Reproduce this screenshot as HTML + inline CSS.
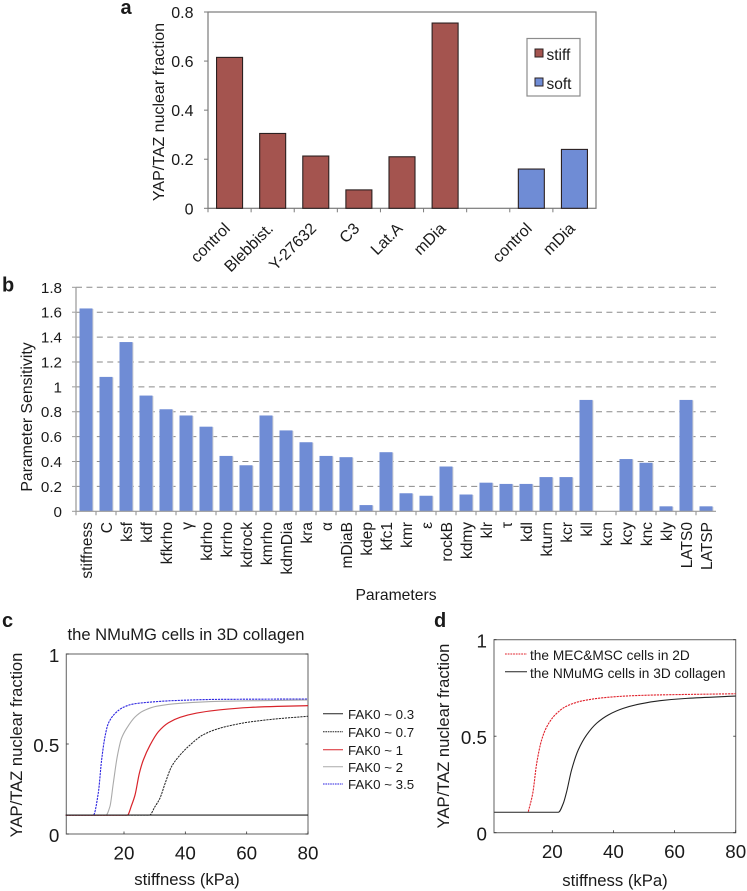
<!DOCTYPE html>
<html>
<head>
<meta charset="utf-8">
<title>YAP/TAZ nuclear fraction figure</title>
<style>
html,body{margin:0;padding:0;background:#fff;}
svg{display:block;font-family:"Liberation Sans",sans-serif;fill:#1a1a1a;filter:blur(0.3px);}
text{fill:#1a1a1a;}
</style>
</head>
<body>
<svg id="fig" xmlns="http://www.w3.org/2000/svg" width="747" height="891" viewBox="0 0 747 891">
  <text x="120.5" y="14" font-size="20" font-weight="bold">a</text>
  <text x="2" y="291.5" font-size="20" font-weight="bold">b</text>
  <text x="2" y="627" font-size="20" font-weight="bold">c</text>
  <text x="434" y="627" font-size="20" font-weight="bold">d</text>

  <text transform="translate(164,112) rotate(-90)" text-anchor="middle" font-size="16">YAP/TAZ nuclear fraction</text>
  <text transform="translate(32,417) rotate(-90)" text-anchor="middle" font-size="15.8">Parameter Sensitivity</text>
  <text x="396" y="600" text-anchor="middle" font-size="15.7">Parameters</text>
  <text x="186" y="640" text-anchor="middle" font-size="16.6">the NMuMG cells in 3D collagen</text>
  <text transform="translate(22,745) rotate(-90)" text-anchor="middle" font-size="16.6">YAP/TAZ nuclear fraction</text>
  <text x="187" y="885" text-anchor="middle" font-size="16.7">stiffness (kPa)</text>
  <text transform="translate(449,736) rotate(-90)" text-anchor="middle" font-size="16.6">YAP/TAZ nuclear fraction</text>
  <text x="615" y="886" text-anchor="middle" font-size="16.7">stiffness (kPa)</text>

  <g id="a-root"></g>
  <g id="b-root"></g>
  <g id="c-root"></g>
  <g id="d-root"></g>

  <g>
    <rect x="527" y="38.5" width="53" height="57.5" fill="#fff" stroke="#8c8c8c" stroke-width="1.2"/>
    <rect x="535" y="49" width="8" height="8" fill="#a4544f" stroke="#2b2020" stroke-width="1"/>
    <text x="546.5" y="60" font-size="15.5">stiff</text>
    <rect x="535" y="78" width="8" height="8" fill="#6f8cd5" stroke="#2b2020" stroke-width="1"/>
    <text x="546.5" y="89" font-size="15.5">soft</text>
  </g>

  <g font-size="13.3">
    <line x1="323" x2="343" y1="713.7" y2="713.7" stroke="#222" stroke-width="1"/>
    <text x="348" y="719">FAK0 ~ 0.3</text>
    <line x1="323" x2="343" y1="731.7" y2="731.7" stroke="#222" stroke-width="1" stroke-dasharray="1.6 0.8"/>
    <text x="348" y="737">FAK0 ~ 0.7</text>
    <line x1="323" x2="343" y1="749.7" y2="749.7" stroke="#d8232a" stroke-width="1"/>
    <text x="348" y="755">FAK0 ~ 1</text>
    <line x1="323" x2="343" y1="766.7" y2="766.7" stroke="#aaa" stroke-width="1"/>
    <text x="348" y="772">FAK0 ~ 2</text>
    <line x1="323" x2="343" y1="784" y2="784" stroke="#2a22e0" stroke-width="1" stroke-dasharray="1.6 0.8"/>
    <text x="348" y="789">FAK0 ~ 3.5</text>
  </g>

  <g font-size="13.7">
    <line x1="505" x2="527" y1="654" y2="654" stroke="#e0202a" stroke-width="1" stroke-dasharray="1.8 0.9"/>
    <text x="530" y="660">the MEC&amp;MSC cells in 2D</text>
    <line x1="505" x2="527" y1="671.7" y2="671.7" stroke="#222" stroke-width="1"/>
    <text x="530" y="678">the NMuMG cells in 3D collagen</text>
  </g>
</svg>

<script>
// Panel a data
const aCategories = ["control", "Blebbist.", "Y-27632", "C3", "Lat.A", "mDia", "", "control", "mDia"];
const aStiff = [0.615, 0.305, 0.213, 0.075, 0.21, 0.755, null, null, null];
const aSoft = [null, null, null, null, null, null, null, 0.16, 0.24];
const aTicks = [0, 0.2, 0.4, 0.6, 0.8];

// Panel b data
const bCategories = ["stiffness", "C", "ksf", "kdf", "kfkrho", "γ", "kdrho", "krrho", "kdrock", "kmrho", "kdmDia", "kra", "α", "mDiaB", "kdep", "kfc1", "kmr", "ε", "rockB", "kdmy", "klr", "τ", "kdl", "kturn", "kcr", "kll", "kcn", "kcy", "knc", "kly", "LATS0", "LATSP"];
const bValues = [1.63, 1.08, 1.36, 0.93, 0.82, 0.77, 0.68, 0.445, 0.37, 0.77, 0.65, 0.555, 0.445, 0.435, 0.05, 0.475, 0.145, 0.125, 0.36, 0.135, 0.23, 0.22, 0.22, 0.275, 0.275, 0.895, 0, 0.42, 0.39, 0.04, 0.895, 0.04];
const bTicks = [0, 0.2, 0.4, 0.6, 0.8, 1, 1.2, 1.4, 1.6, 1.8];

// Panel c data
const curveXTicks = [20, 40, 60, 80];
const curveYTicks = [0, 0.5, 1];
const cFak03X = [1, 80];
const cFak03Y = [0.105, 0.105];
const cFak07X = [1, 28.3, 30.1, 31.7, 33.4, 35.5, 38.3, 41.5, 45.9, 51.3, 55.7, 60, 70, 80];
const cFak07Y = [0.105, 0.105, 0.152, 0.198, 0.281, 0.374, 0.439, 0.494, 0.552, 0.588, 0.606, 0.62, 0.64, 0.654];
const cFak1X = [1, 21.1, 22.5, 23.6, 25, 26.3, 28.5, 31.2, 34.5, 38.3, 43.7, 51.3, 61, 70, 80];
const cFak1Y = [0.105, 0.105, 0.161, 0.217, 0.337, 0.411, 0.494, 0.568, 0.618, 0.648, 0.672, 0.69, 0.703, 0.709, 0.713];
const cFak2X = [1, 14.1, 15.4, 16.5, 17.8, 19.2, 20.9, 23.6, 26.3, 30.7, 38.3, 51.3, 80];
const cFak2Y = [0.105, 0.105, 0.152, 0.281, 0.43, 0.532, 0.588, 0.65, 0.684, 0.71, 0.726, 0.737, 0.745];
const cFak35X = [1, 10, 11.6, 12.7, 13.8, 14.9, 17.1, 19.8, 23, 27.4, 36.1, 51.3, 80];
const cFak35Y = [0.105, 0.105, 0.226, 0.411, 0.541, 0.615, 0.67, 0.704, 0.722, 0.731, 0.741, 0.748, 0.75];

// Panel d data
const d2dX = [12.15, 13.6, 14.9, 16.5, 18.2, 20.9, 24.7, 30.1, 37.8, 46.5, 55.2, 80];
const d2dY = [0.109, 0.204, 0.36, 0.48, 0.549, 0.61, 0.656, 0.684, 0.701, 0.71, 0.714, 0.72];
const d3dX = [1, 22, 23.6, 24.7, 26.3, 28.5, 31.2, 34.5, 38.3, 43.2, 48.7, 55.2, 64, 80];
const d3dY = [0.106, 0.106, 0.152, 0.213, 0.325, 0.429, 0.506, 0.567, 0.61, 0.644, 0.667, 0.684, 0.696, 0.708];

const NS = "http://www.w3.org/2000/svg";
function mk(parent, tag, attrs, txt) {
  const e = document.createElementNS(NS, tag);
  for (const k in attrs) e.setAttribute(k, attrs[k]);
  if (txt !== undefined) e.textContent = txt;
  parent.appendChild(e);
  return e;
}
let el;

/* ---------- Panel a ---------- */
const aRoot = document.getElementById("a-root");
const aL = 208, aR = 596, aT = 12, aB = 208.3;
const aX = i => aL + (aR - aL) * (i + 0.5) / aCategories.length;
const aY = v => aB - (aB - aT) * v / 0.8;
el = mk(aRoot, "rect", {x: aL, y: aT, width: aR - aL, height: aB - aT, fill: "none", stroke: "#7a7a7a", "stroke-width": 1.2});


aTicks.forEach(t => {
  el = mk(aRoot, "line", {x1: aL - 4, x2: aL, y1: aY(t), y2: aY(t), stroke: "#7a7a7a", "stroke-width": 1});
  
  
  el = mk(aRoot, "text", {x: aL - 14.5, y: aY(t) + 6, "text-anchor": "end", "font-size": 16}, String(t));
  
  
});
aCategories.forEach((c, i) => {
  const edge = aL + (aR - aL) * i / aCategories.length;
  el = mk(aRoot, "line", {x1: edge, x2: edge, y1: aB, y2: aB + 4, stroke: "#7a7a7a", "stroke-width": 1});
  
  
  if (c) {
    el = mk(aRoot, "text", {transform: "translate(" + (aX(i) + 1.5) + ",229.5) rotate(-45)", "text-anchor": "end", "font-size": 16}, c);
    
    
  }
  if (aStiff[i] !== null) {
    el = mk(aRoot, "rect", {x: aX(i) - 13, y: aY(aStiff[i]), width: 26, height: aB - aY(aStiff[i]), fill: "#a4544f", stroke: "#2b2020", "stroke-width": 1.1});
    
    
  }
  if (aSoft[i] !== null) {
    el = mk(aRoot, "rect", {x: aX(i) - 13, y: aY(aSoft[i]), width: 26, height: aB - aY(aSoft[i]), fill: "#6f8cd5", stroke: "#2b2020", "stroke-width": 1.1});
    
    
  }
});

/* ---------- Panel b ---------- */
const bRoot = document.getElementById("b-root");
const bL = 76, bR = 716, bT = 287.3, bB = 511.3;
const bX = i => bL + (bR - bL) * (i + 0.5) / bCategories.length;
const bY = v => bB - (bB - bT) * v / 1.8;
bTicks.forEach(t => {
  if (t > 0) {
    el = mk(bRoot, "line", {x1: bL, x2: bR, y1: bY(t), y2: bY(t), stroke: "#8a8a8a", "stroke-width": 1, "stroke-dasharray": "6 4.4"});
    
    
  }
  el = mk(bRoot, "line", {x1: bL - 4, x2: bL, y1: bY(t), y2: bY(t), stroke: "#9a9a9a", "stroke-width": 1});
  
  
  el = mk(bRoot, "text", {x: 62, y: bY(t) + 5.5, "text-anchor": "end", "font-size": 15.2}, String(t));
  
  
});
bCategories.forEach((c, i) => {
  const edge = bL + (bR - bL) * i / bCategories.length;
  const h = bB - bY(bValues[i]);
  if (h > 0) {
    el = mk(bRoot, "rect", {x: bX(i) - 5.5, y: bY(bValues[i]) + 0.5, width: 13, height: h - 0.5, fill: "#d4d4d4"});
    
    
  }
  el = mk(bRoot, "rect", {x: bX(i) - 6.5, y: bY(bValues[i]), width: 13, height: h, fill: "#6f8cd5"});
  
  
  el = mk(bRoot, "line", {x1: edge, x2: edge, y1: bB, y2: bB + 4, stroke: "#8a8a8a", "stroke-width": 1});
  
  
  el = mk(bRoot, "text", {transform: "translate(" + (bX(i) + 6) + ",522) rotate(-90)", "text-anchor": "end", "font-size": 15.5}, c);
  
  
});
el = mk(bRoot, "line", {x1: bL, x2: bL, y1: bT, y2: bB, stroke: "#a6a6a6", "stroke-width": 1.4});


el = mk(bRoot, "line", {x1: bL, x2: bR, y1: bB, y2: bB, stroke: "#9a9a9a", "stroke-width": 1.2});



/* ---------- Shared curve-panel drawing ---------- */
function curveFrame(root, box, prefix) {
  const sx = s => box.r - (box.r - box.x20) * (80 - s) / 60;
  const sy = v => box.b - (box.b - box.t) * v;
  el = mk(root, "rect", {x: box.l, y: box.t, width: box.r - box.l, height: box.b - box.t, fill: "none", stroke: "#6e6e6e", "stroke-width": 1.1});
  
  
  curveXTicks.forEach(t => {
    el = mk(root, "line", {x1: sx(t), x2: sx(t), y1: box.b, y2: box.b - 2.5, stroke: "#333", "stroke-width": 0.8});
    
    
    el = mk(root, "text", {x: sx(t), y: box.b + 25.5, "text-anchor": "middle", "font-size": 18.8}, String(t));
    
    
  });
  curveYTicks.forEach(t => {
    el = mk(root, "line", {x1: box.l, x2: box.l + 2.5, y1: sy(t), y2: sy(t), stroke: "#333", "stroke-width": 0.8});
    
    
    el = mk(root, "line", {x1: box.r, x2: box.r - 2.5, y1: sy(t), y2: sy(t), stroke: "#333", "stroke-width": 0.8});
    
    
    el = mk(root, "text", {x: box.l - 7, y: sy(t) + 8, "text-anchor": "end", "font-size": 18.8}, String(t));
    
    
  });
  return {sx, sy};
}
// Monotone cubic path through the data points, so curves stay smooth without overshoot.
function curvePath(xs, ys, sc) {
  const px = xs.map(sc.sx), py = ys.map(sc.sy), n = px.length;
  const d = [];
  for (let i = 0; i < n - 1; i++) d.push((py[i + 1] - py[i]) / (px[i + 1] - px[i]));
  const m = [d[0]];
  for (let i = 1; i < n - 1; i++) {
    m.push(d[i - 1] * d[i] <= 0 ? 0 : 2 * d[i - 1] * d[i] / (d[i - 1] + d[i]));
  }
  m.push(d[n - 2]);
  let out = "M" + px[0].toFixed(2) + " " + py[0].toFixed(2);
  for (let i = 0; i < n - 1; i++) {
    const h = (px[i + 1] - px[i]) / 3;
    out += "C" + (px[i] + h).toFixed(2) + " " + (py[i] + m[i] * h).toFixed(2) + " " +
      (px[i + 1] - h).toFixed(2) + " " + (py[i + 1] - m[i + 1] * h).toFixed(2) + " " +
      px[i + 1].toFixed(2) + " " + py[i + 1].toFixed(2);
  }
  return out;
}

/* ---------- Panel c ---------- */
const cRoot = document.getElementById("c-root");
const cScale = curveFrame(cRoot, {l: 66.3, r: 308, t: 654, b: 834, x20: 124}, "c");
el = mk(cRoot, "path", {d: curvePath(cFak35X, cFak35Y, cScale), fill: "none", stroke: "#2a22e0", "stroke-width": 1.1, "stroke-dasharray": "2.2 0.9"});


el = mk(cRoot, "path", {d: curvePath(cFak2X, cFak2Y, cScale), fill: "none", stroke: "#aaa", "stroke-width": 1.1});


el = mk(cRoot, "path", {d: curvePath(cFak07X, cFak07Y, cScale), fill: "none", stroke: "#222", "stroke-width": 1, "stroke-dasharray": "2.2 0.9"});


el = mk(cRoot, "path", {d: curvePath(cFak1X, cFak1Y, cScale), fill: "none", stroke: "#d8232a", "stroke-width": 1.2});


el = mk(cRoot, "path", {d: curvePath(cFak03X, cFak03Y, cScale), fill: "none", stroke: "#222", "stroke-width": 1.1});



/* ---------- Panel d ---------- */
const dRoot = document.getElementById("d-root");
const dScale = curveFrame(dRoot, {l: 494, r: 735.7, t: 639.7, b: 832.7, x20: 552.3}, "d");
el = mk(dRoot, "path", {d: curvePath(d2dX, d2dY, dScale), fill: "none", stroke: "#e0202a", "stroke-width": 1.1, "stroke-dasharray": "2.2 0.9"});


el = mk(dRoot, "path", {d: curvePath(d3dX, d3dY, dScale), fill: "none", stroke: "#222", "stroke-width": 1.1});


</script>
</body>
</html>
